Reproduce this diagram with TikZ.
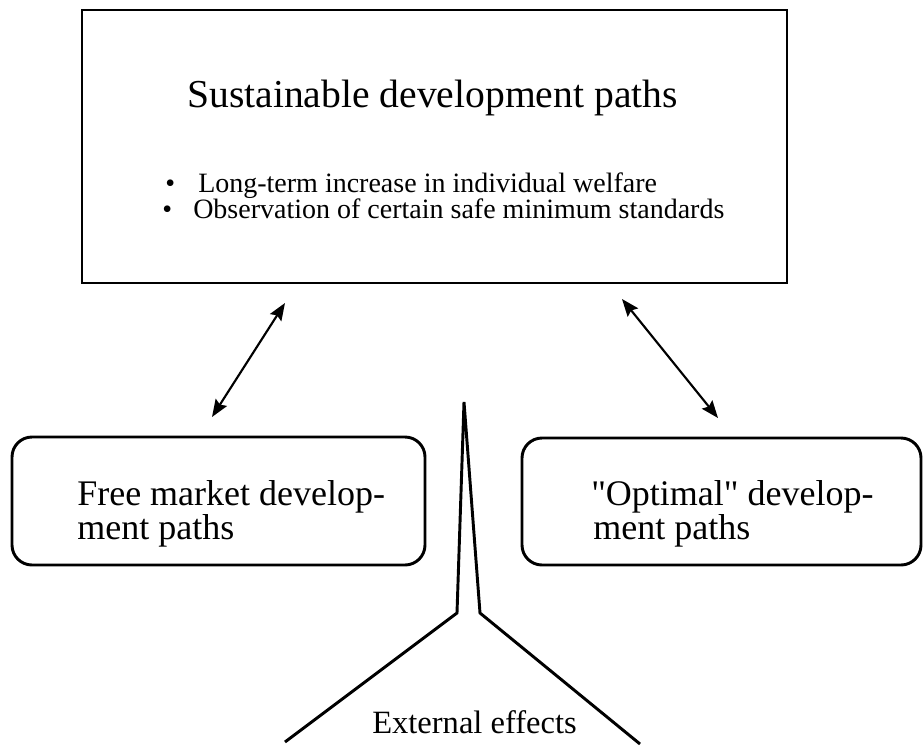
\documentclass[tikz,border=0pt]{standalone}
\usepackage{fontspec}
\setmainfont{Liberation Serif}[Ligatures=TeXOff]
\usetikzlibrary{arrows.meta}
\begin{document}
\begin{tikzpicture}[x=0.75pt,y=-0.75pt,
  box/.style={draw,line width=2.2pt,inner sep=0pt},
  rbox/.style={draw,line width=2.2pt,rounded corners=15pt,inner sep=0pt},
  txt/.style={anchor=north west,inner sep=0pt,align=left,font=\fontsize{27}{19.8}\selectfont},
  btxt/.style={anchor=base west,inner sep=0pt,font=\fontsize{21}{24}\selectfont},
  link/.style={line width=1.6pt,{Stealth[length=13pt,width=10pt,inset=2pt]}-{Stealth[length=13pt,width=10pt,inset=2pt]}},
  spike/.style={line width=2.2pt,line join=miter}]
\useasboundingbox (0,0) rectangle (924,746);
% top box
\node[box,minimum width=705*0.75pt,minimum height=273*0.75pt] (top) at (434.5,146.5) {};
\node[anchor=base west,inner sep=0pt,font=\fontsize{29.7}{32}\selectfont] (title) at (187,107) {Sustainable development paths};
\node[btxt] (b1) at (165,192) {•};
\node[btxt] (l1) at (198,192) {Long-term increase in individual welfare};
\node[btxt] (b2) at (162,218) {•};
\node[btxt] (l2) at (193,218) {Observation of certain safe minimum standards};
% rounded boxes
\node[rbox,minimum width=413*0.75pt,minimum height=128*0.75pt] (free) at (218.5,501) {};
\node[txt] (ftxt) at (77,480.5) {Free market develop-\\ment paths};
\node[rbox,minimum width=399*0.75pt,minimum height=127*0.75pt] (opt) at (721.5,501.5) {};
\node[txt] (otxt) at (591,480.5) {"Optimal" develop-\\\hspace{1.5pt}ment paths};
% arrows
\coordinate (a1) at (285,303);
\coordinate (a2) at (212,417);
\coordinate (a3) at (622,299);
\coordinate (a4) at (718,418);
\draw[link] (a1) -- (a2);
\draw[link] (a3) -- (a4);
% external effects spike
\coordinate (s1) at (285,742);
\coordinate (s2) at (457,613);
\coordinate (s3) at (464,402);
\coordinate (s4) at (480,613);
\coordinate (s5) at (640,744);
\draw[spike] (s1) -- (s2) -- (s3) -- (s4) -- (s5);
\node[anchor=base west,inner sep=0pt,font=\fontsize{24.4}{27}\selectfont] (ext) at (372,733) {External effects};
\end{tikzpicture}
\end{document}
